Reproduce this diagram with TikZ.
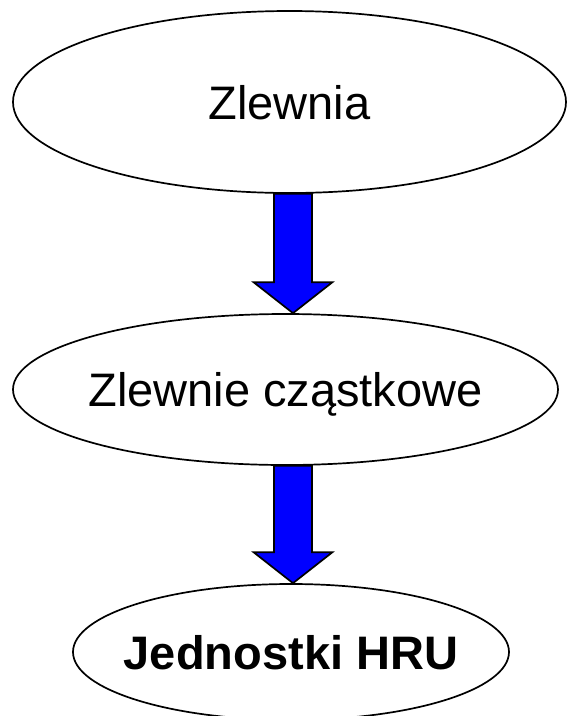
\documentclass[tikz,border=0pt]{standalone}
\usepackage{fontspec}
\setmainfont{Liberation Sans}
\usetikzlibrary{shapes.geometric,calc}
\tikzset{
  stage/.style={ellipse, draw=black, line width=1.7pt, fill=white,
    inner xsep=-30pt, inner ysep=0pt,
    text height=34pt, text depth=0pt, font=\fontsize{47}{51}\selectfont},
  blockarrow/.style={draw=black, line width=1.7pt, fill=blue, line join=miter},
}
\begin{document}
\begin{tikzpicture}[x=1pt,y=-1pt]
  \useasboundingbox (0,0) rectangle (567,716);

  % the three levels of the hierarchy
  \node[stage, minimum width=553pt, minimum height=182pt] (z1) at (289.5,102) {Zlewnia};
  \node[stage, minimum width=545pt, minimum height=151pt] (z2) at (285.5,389.5) {Zlewnie cząstkowe};
  \node[stage, minimum width=436pt, minimum height=136pt] (z3) at (291,652) {\bfseries Jednostki HRU};

  % vertical axis of the block arrows
  \coordinate (axis) at (293,0);

  % block arrow from one level to the next
  \foreach \a/\b in {z1/z2, z2/z3}{
    \coordinate (top) at (\a.south -| axis);
    \coordinate (tip) at (\b.north -| axis);
    \draw[blockarrow] ($(top)+(-19,0)$) -- ($(tip)+(-19,-31)$) -- ($(tip)+(-39.5,-31)$)
      -- (tip) -- ($(tip)+(39.5,-31)$) -- ($(tip)+(19,-31)$) -- ($(top)+(19,0)$) -- cycle;
  }
\end{tikzpicture}
\end{document}
